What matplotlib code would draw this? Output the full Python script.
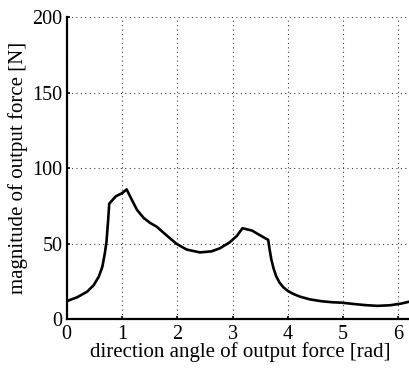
import numpy as np
import matplotlib
matplotlib.use("Agg")
import matplotlib.pyplot as plt

plt.rcParams['font.family'] = ['Liberation Serif', 'DejaVu Serif']

angle = [0.0, 0.19, 0.37, 0.49, 0.58, 0.645, 0.69, 0.72, 0.75, 0.77,
         0.89, 1.00, 1.085, 1.18, 1.27, 1.39, 1.51, 1.63, 1.75, 1.87,
         1.99, 2.17, 2.41, 2.62, 2.77, 2.95, 3.08, 3.18, 3.35, 3.50,
         3.645, 3.67, 3.70, 3.74, 3.79, 3.85, 3.92, 4.00, 4.10, 4.22, 4.40,
         4.60, 4.80, 4.98, 5.20, 5.40, 5.62, 5.85, 6.05, 6.19, 6.2832]
force = [12.0, 14.6, 18.3, 22.7, 28.2, 34.8, 43.7, 51.4, 65.8, 76.6,
         81.5, 83.5, 86.0, 79.0, 72.6, 67.2, 63.8, 61.3, 57.4, 53.6,
         49.9, 46.2, 44.3, 45.0, 47.0, 51.0, 55.3, 60.3, 58.8, 55.6,
         52.6, 46.5, 40.0, 34.0, 28.5, 24.3, 21.2, 18.8, 16.8, 15.0, 13.2,
         12.0, 11.3, 11.0, 10.1, 9.4, 8.9, 9.3, 10.4, 11.6, 12.4]
xticks = [0, 1, 2, 3, 4, 5, 6]
yticks = [0, 50, 100, 150, 200]

fig = plt.figure(figsize=(4.09, 3.72), dpi=100)
ax = fig.add_axes([66.7/409, 52.7/372, 347.3/409, 302.0/372])
ax.plot(angle, force, color='black', lw=1.9, solid_joinstyle='round')
ax.set_xlim(0, 2*np.pi)
ax.set_ylim(0, 200)
ax.set_xticks(xticks)
ax.set_yticks(yticks)
ax.grid(True, color='0.25', linestyle=(0, (1, 3)), linewidth=0.8)
for s in ['top', 'right']:
    ax.spines[s].set_visible(False)
for s in ['left', 'bottom']:
    ax.spines[s].set_linewidth(1.6)
ax.tick_params(direction='in', length=2.5, width=1.2, labelsize=14.5)
ax.tick_params(axis='x', pad=4)
ax.tick_params(axis='y', pad=3)
ax.set_xlabel('direction angle of output force [rad]', fontsize=15, labelpad=-1)
ax.set_ylabel('magnitude of output force [N]', fontsize=15, labelpad=3)
fig.savefig('out.png', dpi=100)
